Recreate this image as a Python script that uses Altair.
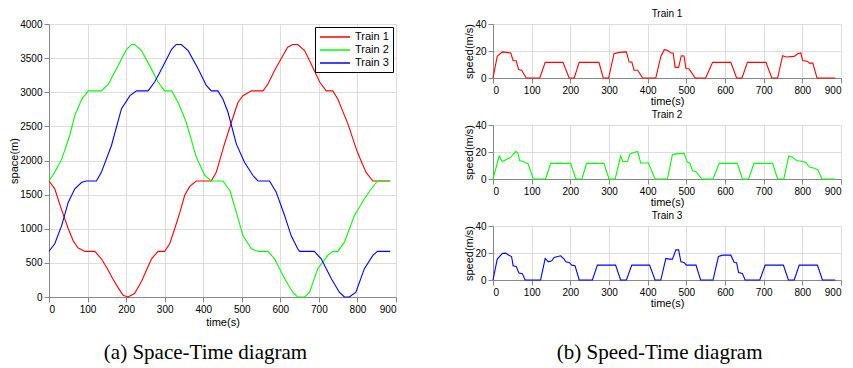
import altair as alt
import pandas as pd

trains = ["Train 1", "Train 2", "Train 3"]
colors = ["#ff0000", "#00ff00", "#0000ff"]

# Space-time data (time s, position m)
s1_t = [0,15,30,50,63,75,93,119,136,150,165,180,192,205,222,240,255,266,283,300,313,326,340,352,365,382,421,434,455,473,490,503,525,555,568,585,602,619,632,645,663,684,702,719,736,749,762,775,800,822,840,885]
s1_v = [1700,1585,1320,1000,820,720,668,668,560,430,270,130,24,0,50,230,420,560,668,668,780,1000,1250,1490,1620,1700,1700,1830,2240,2560,2850,2950,3020,3020,3120,3320,3490,3660,3700,3700,3610,3365,3150,3020,3020,2900,2720,2540,2120,1830,1700,1700]
s2_t = [0,15,33,54,67,85,102,136,154,179,201,214,222,240,261,283,300,318,335,356,382,404,421,451,469,486,503,525,542,568,585,611,632,645,663,676,697,723,736,749,766,792,818,844,852,885]
s2_v = [1700,1830,2020,2370,2660,2900,3020,3020,3120,3390,3630,3700,3700,3610,3390,3150,3020,3020,2850,2560,2050,1780,1700,1700,1560,1240,900,707,668,668,560,270,70,0,0,70,415,610,668,668,800,1195,1440,1645,1700,1700]
s3_t = [0,15,33,50,67,85,97,123,136,162,188,210,227,257,274,292,318,330,343,361,387,408,421,438,451,464,486,507,529,542,572,589,611,628,645,650,688,706,732,753,766,779,796,818,840,852,885]
s3_v = [670,780,1050,1390,1585,1680,1700,1700,1830,2220,2760,2950,3020,3020,3150,3340,3630,3700,3700,3610,3340,3100,3020,3020,2900,2710,2240,1975,1780,1700,1700,1540,1195,900,707,668,668,560,270,70,0,0,70,415,610,668,668]

# Speed-time data (time s, speed m/s)
v1_t = [0,11,24,46,52,60,66,74,86,121,135,181,197,210,223,274,285,299,313,326,345,352,359,365,374,387,421,434,443,451,460,466,471,480,487,494,499,507,523,550,568,615,630,644,658,706,721,736,749,758,779,788,796,801,814,818,827,838,885]
v1_v = [0,16,19.3,18.5,12.8,12.8,6.2,5.7,0,0,11.6,11.6,0,0,11.6,11.6,0,0,18,19,19.3,11.8,11.8,5.7,5.7,0,0,16,21,20.5,18.5,18.5,7.9,7.9,16.5,16.3,7,6.8,0,0,11.6,11.6,0,0,11.6,11.6,0,0,16.5,15.6,16,18,18.5,13,12.3,11,11,0,0]
v2_t = [0,16,24,33,43,52,59,64,69,78,85,91,104,136,149,201,214,230,242,287,300,316,330,336,348,354,365,374,382,402,419,451,464,473,494,503,509,516,525,540,569,585,632,645,661,675,723,736,752,765,775,785,801,809,818,831,840,851,885]
v2_v = [0,17,13,14.2,15.5,18,20.4,19.6,13.7,13,11.8,11.3,0,0,11.6,11.6,0,0,11.6,11.6,0,0,17,13,13,18.6,19.6,20.4,11.8,11.8,0,0,18,18.6,19,12.3,11.8,6.1,5.4,0,0,11.6,11.6,0,0,11.6,11.6,0,0,17,16,13.7,13,12.3,8.8,7.9,6.9,0,0]
v3_t = [0,11,24,33,41,48,52,60,67,76,83,123,135,143,152,158,175,184,188,197,204,212,223,257,270,317,330,345,359,405,419,434,447,455,464,473,480,486,494,500,525,537,569,583,594,615,624,630,635,645,652,690,704,751,764,779,792,839,852,885]
v3_v = [0,15.5,19.6,19.9,18.4,17.4,10.6,10.1,5.2,4.7,0,0,16,13.5,14.2,16.7,17.9,15.5,13.5,13,11,10.6,0,0,11,11,0,0,11,11,0,0,16,15.5,15.5,22.3,22.3,13.5,13,11,11,0,0,17.4,18.4,18.4,13,12.8,5.6,4.9,0,0,11,11,0,0,11,11,0,0]

space_df = pd.concat([
    pd.DataFrame({"t": s1_t, "v": s1_v, "train": trains[0], "o": range(len(s1_t))}),
    pd.DataFrame({"t": s2_t, "v": s2_v, "train": trains[1], "o": range(len(s2_t))}),
    pd.DataFrame({"t": s3_t, "v": s3_v, "train": trains[2], "o": range(len(s3_t))}),
])

xs = alt.Scale(domain=[0, 900], nice=False, zero=False)
color_scale = alt.Scale(domain=trains, range=colors)

axis_x = dict(format="d", titleFontWeight="normal", labelPadding=2, titlePadding=2)
axis_y = dict(format="d", titleFontWeight="normal", labelPadding=2, titlePadding=0)
axis_small_x = dict(format="d", titleFontWeight="normal", labelPadding=2, titlePadding=0)

left = alt.Chart(space_df).mark_line(strokeWidth=1.1).encode(
    x=alt.X("t:Q", scale=xs, title="time(s)",
            axis=alt.Axis(values=list(range(0, 901, 100)), **axis_x)),
    y=alt.Y("v:Q", scale=alt.Scale(domain=[0, 4000], nice=False), title="space(m)",
            axis=alt.Axis(values=list(range(0, 4001, 500)), **axis_y)),
    color=alt.Color("train:N", scale=color_scale, title=None,
                    legend=alt.Legend(orient="top-right", offset=3, strokeColor="black",
                                      fillColor="white", padding=4, symbolType="M-1,0H5",
                                      symbolSize=100, symbolStrokeWidth=1.5,
                                      labelFontSize=11, labelFont="Liberation Sans",
                                      labelOffset=24, rowPadding=2, cornerRadius=0)),
    order="o:Q",
).properties(width=347, height=273,
             title=alt.TitleParams("(a) Space-Time diagram", orient="bottom", font="Liberation Serif",
                                   fontSize=21, fontWeight="normal", offset=15, anchor="middle", dx=-17))

def speed_panel(ts, vs, name, col):
    df = pd.DataFrame({"t": ts, "v": vs})
    return alt.Chart(df).mark_line(strokeWidth=1.1, color=col).encode(
        x=alt.X("t:Q", scale=xs, title="time(s)",
                axis=alt.Axis(values=list(range(0, 901, 100)), **axis_small_x)),
        y=alt.Y("v:Q", scale=alt.Scale(domain=[0, 40], nice=False), title="speed(m/s)",
                axis=alt.Axis(values=[0, 20, 40], **axis_y)),
    ).properties(width=348, height=54,
                 title=alt.TitleParams(name, fontSize=10, fontWeight="normal",
                                       font="Liberation Sans", offset=0))

right = alt.vconcat(
    speed_panel(v1_t, v1_v, trains[0], colors[0]),
    speed_panel(v2_t, v2_v, trains[1], colors[1]),
    speed_panel(v3_t, v3_v, trains[2], colors[2]),
    spacing=2,
).properties(title=alt.TitleParams("(b) Speed-Time diagram", orient="bottom", font="Liberation Serif",
                                   fontSize=21, fontWeight="normal", offset=33, anchor="middle", dx=7))

chart = alt.hconcat(left, right, spacing=66).resolve_legend(color="independent").configure_view(
    stroke="black", strokeWidth=1
).configure_axis(
    domain=False, ticks=False, grid=True, gridColor="#333", gridDash=[1, 3], gridOpacity=0.8,
    labelFont="Liberation Sans", labelFontSize=10, labelColor="black",
    titleFont="Liberation Sans", titleFontSize=10, titleFontWeight="normal", titleColor="black",
).configure(background="white", padding={"left": 0, "top": 0, "right": 0, "bottom": 0})

chart.save("out.html", embed_options={"renderer": "svg", "actions": False})
